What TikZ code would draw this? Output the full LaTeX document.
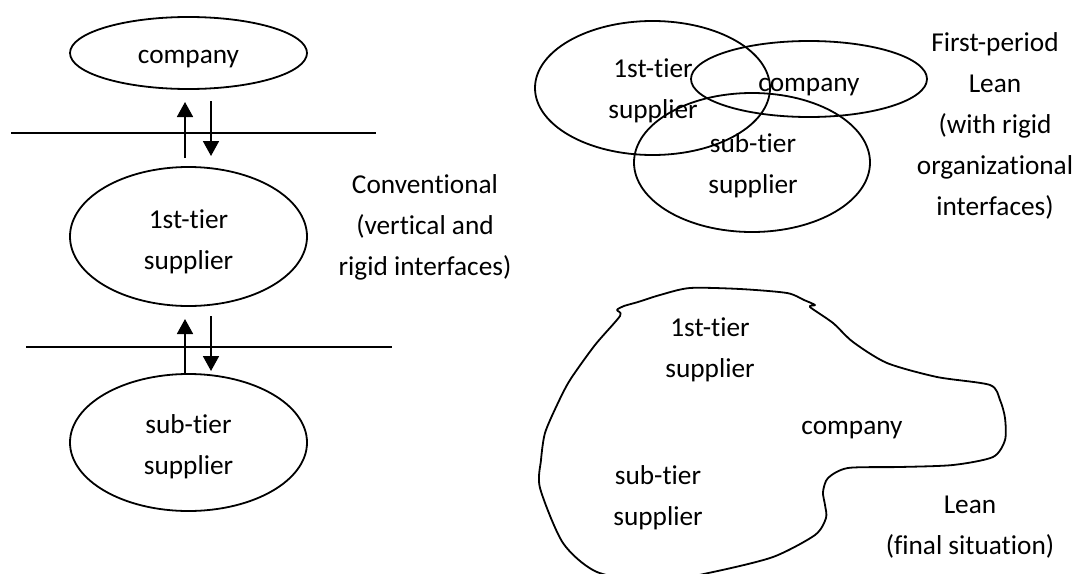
\documentclass[tikz,border=0pt]{standalone}
\usepackage{fontspec}
\setmainfont{Carlito}[Ligatures={NoCommon}]
\usetikzlibrary{shapes.geometric,arrows.meta}
\begin{document}
\begin{tikzpicture}[x=1pt,y=-1pt,
  every node/.style={font=\fontsize{27.3}{41}\selectfont, align=center},
  oval/.style={ellipse, draw, line width=1.8pt, inner sep=0pt},
  caption/.style={inner sep=0pt},
  flow/.style={line width=1.8pt, -{Triangle[width=16pt,length=15pt]}},
  barrier/.style={line width=1.8pt},
  outline/.style={line width=1.8pt, line join=round}]
\useasboundingbox (0,0) rectangle (1076,573);

% ---- conventional chain (left) ----
\node[oval, minimum width=237pt, minimum height=72pt]  (compA) at (188.5,53)    {};
\node[oval, minimum width=237pt, minimum height=139pt] (tierA) at (188.5,236.5) {};
\node[oval, minimum width=237pt, minimum height=137pt] (subA)  at (188.5,442.5) {};
\node[caption] (compAText) at (188.5,59)    {company};
\node[caption] (tierAText) at (188.5,241.5) {1st-tier\\supplier};
\node[caption] (subAText)  at (188.5,446.5) {sub-tier\\supplier};

\coordinate (barL1) at (11,133);  \coordinate (barR1) at (376,133);
\coordinate (barL2) at (26,347);  \coordinate (barR2) at (392,347);
\draw[barrier] (barL1) -- (barR1);
\draw[barrier] (barL2) -- (barR2);

\coordinate (up1s) at (185,158);   \coordinate (up1e) at (185,102);
\coordinate (dn1s) at (211,101);   \coordinate (dn1e) at (211,156);
\coordinate (up2s) at (185,374);   \coordinate (up2e) at (185,319);
\coordinate (dn2s) at (211,316);   \coordinate (dn2e) at (211,371);
\draw[flow] (up1s) -- (up1e);
\draw[flow] (dn1s) -- (dn1e);
\draw[flow] (up2s) -- (up2e);
\draw[flow] (dn2s) -- (dn2e);

\node[caption] (convText) at (425,227.5) {Conventional\\(vertical and\\rigid interfaces)};

% ---- first-period lean (top right) ----
\node[oval, minimum width=235pt, minimum height=134pt] (tierB) at (652.5,88)  {};
\node[oval, minimum width=236pt, minimum height=76pt]  (compB) at (809,79)    {};
\node[oval, minimum width=236pt, minimum height=139pt] (subB)  at (752,162.5) {};
\node[caption] (tierBText) at (653,91)  {1st-tier\\supplier};
\node[caption] (compBText) at (809,87)  {company};
\node[caption] (subBText)  at (753,166) {sub-tier\\supplier};

\node[caption] (fpText) at (995,125.5) {First-period\\Lean\\(with rigid\\organizational\\interfaces)};

% ---- final lean (bottom right) ----
\begin{scope}
\clip (0,0) rectangle (1076,573);
\draw[outline] plot[smooth cycle, tension=0.45] coordinates {
  (690,288) (740,289) (787,293) (804,300) (815,305) (810,307)
  (833,323) (853,342) (887,363) (937,377) (990,385) (1000,400)
  (1005,418) (1005,440) (993,457) (953,465) (900,467) (848,468)
  (828,478) (823,492) (825,505) (826,518) (815,535) (773,557)
  (713,572) (655,582) (597,572) (563,543) (540,488) (541,460)
  (545,433) (557,405) (570,380) (595,345) (620,316) (617,310)
  (624,306) (638,302) (660,295)};
\end{scope}

\node[caption] (tierCText) at (710,350) {1st-tier\\supplier};
\node[caption] (compCText) at (852,430) {company};
\node[caption] (subCText)  at (658,498) {sub-tier\\supplier};
\node[caption] (leanText)  at (970,527) {Lean\\(final situation)};
\end{tikzpicture}
\end{document}
